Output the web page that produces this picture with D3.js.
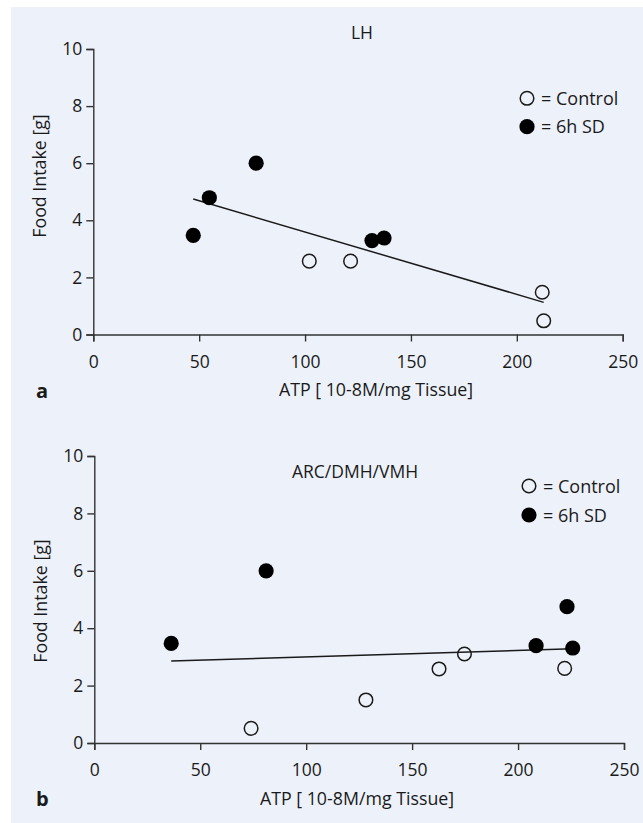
<!DOCTYPE html>
<html>
<head>
<meta charset="utf-8">
<script src="https://cdn.jsdelivr.net/npm/d3@7"></script>
<style>
  body { margin: 0; background: #fff; }
  svg { display: block; }
  text { font-family: "Open Sans", "Noto Sans", sans-serif; fill: #1a1a1a; }
</style>
</head>
<body>
<div id="viz"></div>
<script>
var width = 643,
    height = 823;

// tick values, shared by both panels
var xTicks = [0, 50, 100, 150, 200, 250];
var yTicks = [0, 2, 4, 6, 8, 10];

// panel a - LH
var lhControlX = [102, 121.5, 212, 212.7];
var lhControlY = [2.57, 2.57, 1.48, 0.48];
var lhSdX = [47.2, 54.8, 76.9, 131.6, 137.3];
var lhSdY = [3.47, 4.79, 6.0, 3.29, 3.38];

// panel b - ARC/DMH/VMH
var arcControlX = [74, 128.2, 162.7, 174.7, 222];
var arcControlY = [0.51, 1.5, 2.58, 3.1, 2.6];
var arcSdX = [36.3, 81.1, 208.5, 223.1, 225.8];
var arcSdY = [3.47, 6.0, 3.39, 4.75, 3.31];

var legendLabels = ["= Control", "= 6h SD"];
var xLabel = "ATP [ 10-8M/mg Tissue]";
var yLabel = "Food Intake [g]";

var panels = [
  {title: "LH", letter: "a",
   cx: lhControlX, cy: lhControlY, sx: lhSdX, sy: lhSdY,
   x0: 93.3, x1: 622.7, y0: 334.5, y1: 49,
   titleX: 362, titleY: 39, legX: 527, legY: 98.3, legGap: 28.4,
   yLabX: 46, yLabY: 176, xLabX: 376, xLabY: 396, letterY: 398},
  {title: "ARC/DMH/VMH", letter: "b",
   cx: arcControlX, cy: arcControlY, sx: arcSdX, sy: arcSdY,
   x0: 94.3, x1: 624, y0: 743, y1: 456,
   titleX: 355, titleY: 478, legX: 529, legY: 486, legGap: 29,
   yLabX: 47, yLabY: 601, xLabX: 357, xLabY: 805, letterY: 806}
];

var svg = d3.select("#viz").append("svg")
    .attr("width", width)
    .attr("height", height);

// light blue figure background
svg.append("rect")
    .attr("x", 11).attr("y", 7)
    .attr("width", width - 11).attr("height", height - 7)
    .attr("fill", "#edf2fa");

panels.forEach(function(p) {
    var x = d3.scaleLinear().domain([0, 250]).range([p.x0, p.x1]);
    var y = d3.scaleLinear().domain([0, 10]).range([p.y0, p.y1]);
    var g = svg.append("g");

    // axes
    var xAxis = g.append("g")
        .attr("transform", "translate(0," + p.y0 + ")")
        .call(d3.axisBottom(x).tickValues(xTicks).tickSize(7).tickSizeOuter(7).tickPadding(14));
    var yAxis = g.append("g")
        .attr("transform", "translate(" + p.x0 + ",0)")
        .call(d3.axisLeft(y).tickValues(yTicks).tickSize(7).tickSizeOuter(7).tickPadding(4));

    [xAxis, yAxis].forEach(function(a) {
        a.select(".domain").attr("stroke", "#333").attr("stroke-width", 1.4);
        a.selectAll(".tick line").attr("stroke", "#333").attr("stroke-width", 1.4);
        a.selectAll(".tick text")
            .attr("fill", "#1a1a1a")
            .style("font-family", "'Open Sans', sans-serif")
            .style("font-size", "17.5px");
    });

    // regression line (least squares over all points)
    var xs = p.cx.concat(p.sx),
        ys = p.cy.concat(p.sy);
    var mx = d3.mean(xs), my = d3.mean(ys);
    var sxy = d3.sum(xs, function(v, i) { return (v - mx) * (ys[i] - my); });
    var sxx = d3.sum(xs, function(v) { return (v - mx) * (v - mx); });
    var slope = sxy / sxx,
        icpt = my - slope * mx;
    var ext = d3.extent(xs);

    g.append("line")
        .attr("x1", x(ext[0])).attr("y1", y(icpt + slope * ext[0]))
        .attr("x2", x(ext[1])).attr("y2", y(icpt + slope * ext[1]))
        .attr("stroke", "#1a1a1a")
        .attr("stroke-width", 1.5);

    // control = open circles
    g.selectAll("circle.ctl")
        .data(p.cx.map(function(v, i) { return [v, p.cy[i]]; }))
        .enter().append("circle")
        .attr("class", "ctl")
        .attr("cx", function(d) { return x(d[0]); })
        .attr("cy", function(d) { return y(d[1]); })
        .attr("r", 6.8)
        .attr("fill", "none")
        .attr("stroke", "#1a1a1a")
        .attr("stroke-width", 1.5);

    // 6h SD = filled circles
    g.selectAll("circle.sd")
        .data(p.sx.map(function(v, i) { return [v, p.sy[i]]; }))
        .enter().append("circle")
        .attr("class", "sd")
        .attr("cx", function(d) { return x(d[0]); })
        .attr("cy", function(d) { return y(d[1]); })
        .attr("r", 7.6)
        .attr("fill", "#000");

    // title
    g.append("text")
        .attr("x", p.titleX).attr("y", p.titleY)
        .attr("text-anchor", "middle")
        .style("font-size", "17.5px")
        .text(p.title);

    // legend
    var leg = g.append("g");
    leg.append("circle")
        .attr("cx", p.legX).attr("cy", p.legY).attr("r", 6.8)
        .attr("fill", "none").attr("stroke", "#1a1a1a").attr("stroke-width", 1.5);
    leg.append("circle")
        .attr("cx", p.legX).attr("cy", p.legY + p.legGap).attr("r", 7.6)
        .attr("fill", "#000");
    legendLabels.forEach(function(t, i) {
        leg.append("text")
            .attr("x", p.legX + 14)
            .attr("y", p.legY + i * p.legGap + 6.5)
            .style("font-size", "18px")
            .text(t);
    });

    // axis labels
    g.append("text")
        .attr("x", p.xLabX)
        .attr("y", p.xLabY)
        .attr("text-anchor", "middle")
        .style("font-size", "17.8px")
        .text(xLabel);
    g.append("text")
        .attr("transform", "translate(" + p.yLabX + "," + p.yLabY + ") rotate(-90)")
        .attr("text-anchor", "middle")
        .style("font-size", "17.8px")
        .text(yLabel);

    // panel letter
    g.append("text")
        .attr("x", 36).attr("y", p.letterY)
        .style("font-size", "20px")
        .style("font-weight", "bold")
        .text(p.letter);
});
</script>
</body>
</html>
